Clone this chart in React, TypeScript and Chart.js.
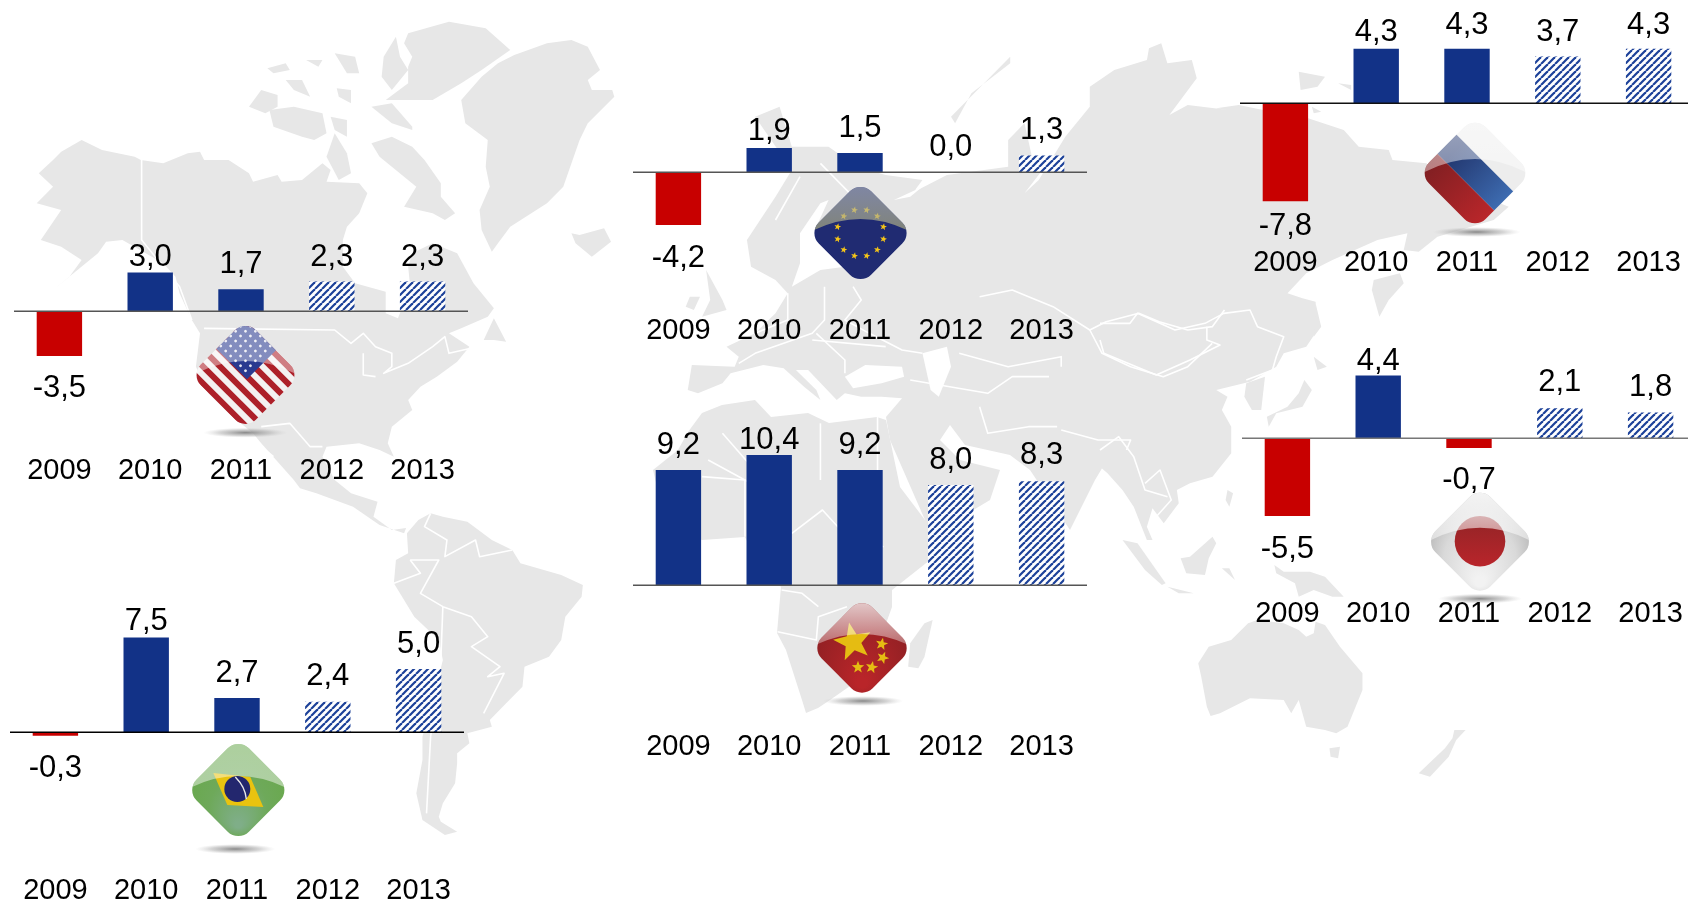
import React, { useEffect, useRef } from "react";
import { Chart, registerables } from "chart.js";

Chart.register(...registerables);

const years = ["2009", "2010", "2011", "2012", "2013"];
const usaValues = [-3.5, 3.0, 1.7, 2.3, 2.3];
const euValues = [-4.2, 1.9, 1.5, 0.0, 1.3];
const russiaValues = [-7.8, 4.3, 4.3, 3.7, 4.3];
const japanValues = [-5.5, 4.4, -0.7, 2.1, 1.8];
const chinaValues = [9.2, 10.4, 9.2, 8.0, 8.3];
const brazilValues = [-0.3, 7.5, 2.7, 2.4, 5.0];

const FONT = '"Liberation Sans", Arial, sans-serif';
const DATA_FONT_PX = 31;
const TICK_FONT_PX = 29;
const PANEL_W = 454;

type Panel = {
  id: string; values: number[]; left: number; baseline: number; ppu: number;
  tickY: number; labelY: number[]; axis: string;
};
const panels: Panel[] = [
  { id: "usa", values: usaValues, left: 14, baseline: 311, ppu: 12.85, tickY: 471, labelY: [388, 257, 264.5, 257, 257], axis: "#555" },
  { id: "eu", values: euValues, left: 633, baseline: 172, ppu: 12.6, tickY: 331.3, labelY: [258, 131, 128.5, 147, 130.5], axis: "#555" },
  { id: "russia", values: russiaValues, left: 1240, baseline: 103, ppu: 12.6, tickY: 262.7, labelY: [226.5, 32, 25, 32, 25], axis: "#111" },
  { id: "japan", values: japanValues, left: 1242, baseline: 438, ppu: 14.2, tickY: 613.7, labelY: [549, 361.5, 480, 382, 387], axis: "#777" },
  { id: "china", values: chinaValues, left: 633, baseline: 585, ppu: 12.5, tickY: 746.5, labelY: [445, 440.5, 445, 460, 455.5], axis: "#555" },
  { id: "brazil", values: brazilValues, left: 10, baseline: 732, ppu: 12.6, tickY: 890.5, labelY: [768, 621.5, 673, 676.5, 644], axis: "#000" },
];

function zoomFrame(ox: number, oy: number, sx: number) {
  return (...p: number[]) => {
    const out: number[] = [];
    for (let i = 0; i < p.length; i += 2) out.push(ox + p[i] / sx, oy + p[i + 1] / 3);
    return out;
  };
}
const z7 = zoomFrame(0, 0, 2.45);
const z8 = zoomFrame(600, 0, 2.45);
const z9 = zoomFrame(1100, 60, 2.667);
const z10 = zoomFrame(300, 460, 2.45);
const z11 = zoomFrame(1100, 500, 2.667);

const landShapes: number[][] = [
  // North America
  z7(200,420,250,450,330,470,345,480,400,490,460,460,490,455,500,480,560,480,610,520,620,545,680,525,690,545,740,540,790,490,810,510,800,545,880,550,900,580,880,640,850,680,840,720,840,800,870,850,945,875,945,940,975,955,1005,860,1000,800,1010,760,1060,730,1120,760,1160,850,1210,925,1195,950,1130,985,1100,1000,1150,1040,1120,1085,1070,1130,1030,1160,1000,1200,1010,1230,960,1280,950,1330,965,1370,930,1350,880,1330,800,1340,790,1370,820,1440,860,1480,925,1505,915,1550,960,1590,995,1584,990,1600,930,1575,865,1520,775,1480,735,1465,720,1440,640,1330,620,1300,560,1240,510,1180,480,1100,490,1000,470,960,440,880,430,830,400,790,300,720,260,725,240,760,180,820,115,885,170,830,200,780,150,740,100,720,150,630,90,610,130,560,95,520,130,480,150,455),
  // Arctic Canada
  z7(610,320,640,270,680,285,680,320,650,340),
  z7(660,330,720,320,790,340,800,400,770,420,740,410,670,380),
  z7(700,240,740,240,760,290,720,270),
  z7(655,205,700,190,710,210,670,220),
  z7(820,400,850,460,860,520,830,540,800,470),
  z7(910,430,960,410,1010,440,1040,480,1080,550,1080,590,1115,640,1090,660,1060,640,990,620,1020,560,960,500,930,470),
  z7(1000,100,1100,65,1190,85,1250,150,1180,210,1130,250,1060,300,1010,300,945,300,1000,250,1000,200,1010,170,990,130),
  z7(940,170,970,110,980,170,1000,210,960,270,935,230),
  z7(960,310,1010,380,1010,390,960,370,910,320),
  z7(820,160,870,170,880,220,850,220),
  z7(750,180,790,180,780,200),
  z7(825,265,860,270,860,310,830,290),
  z7(810,350,850,360,850,410,820,390),
  z7(1185,1020,1210,955,1240,1025,1210,1020),
  // Greenland, Iceland
  z7(1260,165,1340,130,1400,120,1440,140,1470,210,1440,240,1450,270,1500,270,1505,290,1440,370,1420,420,1380,560,1340,610,1250,680,1220,730,1205,755,1180,690,1175,630,1200,560,1190,500,1195,420,1140,370,1130,300,1180,230,1220,190),
  z7(1400,700,1420,705,1480,685,1497,725,1450,770,1410,730),
  // South America
  z10(320,160,350,170,410,185,470,240,520,270,540,310,640,345,693,375,690,410,650,470,640,540,610,590,550,620,545,680,505,730,465,780,470,800,410,820,415,850,385,880,385,910,380,970,350,1030,340,1070,345,1085,385,1115,355,1125,300,1080,285,1000,300,900,300,830,330,700,350,600,340,540,280,470,230,370,235,300,265,280,262,220,290,180),
  // Africa
  [722,405,755,400,771,417,808,413,829,423,877,417,886,420,900,487,925,520,950,522,930,560,892,590,892,607,880,640,880,665,830,700,818,708,806,713,802,700,786,650,777,633,781,587,753,553,745,537,702,540,665,520,653,470,678,450,688,432,702,413],
  z10(1530,490,1550,480,1530,590,1515,625,1490,620,1495,550),
  // Eurasia
  [
    ...z8(440,320,470,440,560,440,630,500,700,525,790,540,775,565,770,575,850,525,1000,500,1000,420,1040,370,1060,480,1090,500,1040,580,1075,540,1140,410,1200,320,1200,260,1260,210,1340,180,1345,145,1375,130,1390,190,1450,180,1462,235,1395,345,1440,315,1540,330),
    ...z9(310,145,370,135,435,150,555,175,650,210,690,260,770,270,780,300,870,310,900,330,1000,400,1090,440,1050,480,900,530,850,575,810,570,820,520,740,540,620,600,550,640,500,700,540,715,575,725,580,810,550,860,490,880,470,920,440,940,400,965,310,990,340,1010,325,1050,350,1100,350,1180,300,1250,240,1270,205,1290,210,1330,170,1390,140,1345,125,1400,140,1440,125,1440,90,1340,60,1290,20,1240,0,1220),
    1110,455,1095,480,1070,530,1030,470,1010,455,965,445,950,425,940,440,960,460,1000,470,990,500,940,530,925,520,890,440,886,417,
    ...z8(740,1195,690,1190,640,1190,600,1180,580,1200,510,1110,480,1110,530,1170,540,1200,500,1160,450,1105,400,1095,320,1120,300,1150,240,1180,215,1170,225,1095,330,1100,340,1070,310,1040,380,1000,430,940,460,880,430,840,370,800,360,720,430,590,470,510,380,350),
  ],
  // Islands of Eurasia and Oceania
  z8(260,810,300,900,310,930,250,950,270,900),
  z8(220,890,245,890,230,930,210,920),
  z8(860,350,1005,170,1005,190,910,280,870,370),
  z9(530,35,600,50,580,80,535,90),
  z9(635,70,670,75,670,90),
  z9(565,140,590,155,570,160),
  z9(730,660,800,640,810,670,770,720,745,770,725,690),
  z9(390,970,440,950,430,1050,405,1050,385,1010),
  z9(545,960,565,990,540,1040,470,1060,450,1100,445,1070,500,1040,530,1000),
  z9(570,890,605,920,580,930),
  z9(575,730,590,800,570,830,575,770),
  z9(340,1290,355,1300,345,1340,335,1320),
  z11(60,120,100,130,175,250,165,255,120,210),
  z11(215,175,240,170,300,110,310,130,290,175,280,225,230,220),
  z11(325,205,345,205,360,240,340,220),
  z11(180,260,250,280,210,280),
  z11(465,195,490,215,560,215,600,230,650,290,620,290,570,270,530,290,520,250,470,220),
  z11(600,375,640,440,700,520,700,570,660,680,630,700,600,690,550,680,530,600,510,640,490,600,400,595,320,640,295,648,285,620,270,530,262,490,290,440,350,420,395,370,420,360,490,370,530,390,550,410,570,400,575,365),
  z11(612,745,640,740,635,775,615,770),
  z11(850,820,920,745,940,715,945,690,975,690,950,720,930,770,880,830),
];

const seaShapes: number[][] = [
  z8(490,700,540,610,560,600,530,680,600,800,540,810,470,860,490,790),
  z8(600,1130,650,1095,740,1100,745,1130,690,1150,620,1165),
  z8(790,1060,850,1040,860,1100,830,1190,810,1170),
  z8(720,600,790,560,760,590),
];

const borderLines: number[][] = [
  z7(347,480,347,720,440,860,470,960),
  z7(500,985,820,990,860,1030,890,1000,920,1040,960,1060,960,1100,940,1120,1000,1090,1060,1040,1090,1010,1100,1060,1170,1040),
  z7(890,1060,890,1125,920,1130),
  z7(640,1280,710,1270,760,1340,790,1340),
  z7(620,1320,670,1370),
  z8(930,890,1010,870,1050,890,1110,920,1200,990,1240,965,1320,940,1370,965,1440,990,1500,980,1530,930),
  z9(0,790,80,790,100,760,200,810,280,790,330,760,400,750,420,800,490,830,470,890,460,930,390,960),
  z9(0,840,10,880,150,945,240,900,320,855,285,840,285,800),
  z8(1200,990,1230,1060,1300,1100,1380,1130,1440,1100,1500,1030),
  z8(880,1060,1000,1100,1130,1070,1130,1100),
  z8(760,1140,950,1180,1010,1130,1100,1130),
  z8(930,1220,950,1300,1050,1280,1120,1280),
  z8(1130,1290,1220,1320,1300,1320,1290,1350),
  z8(620,860,640,900,600,960,660,1000,740,1050,790,1060),
  z8(460,880,460,960,380,1000),
  z8(550,860,550,960,520,1000,380,1060,340,1090),
  z8(530,1000,600,1080,600,1120),
  z8(490,530,430,660),
  z8(540,490,620,590),
  z8(520,1020,700,1040),
  z9(0,1170,50,1130,90,1190,120,1290,180,1310),
  z9(120,1270,160,1230,190,1320,150,1370),
  z10(985,50,1090,60,1090,230),
  z10(1000,0,1090,60,1200,130),
  z10(1205,220,1280,150,1340,230,1430,260),
  z10(1170,515,1265,540,1270,470,1340,440),
  z10(1180,390,1230,400,1270,440),
  z8(300,1300,400,1440),
  z8(540,1270,540,1440),
  z8(680,1250,680,1440),
  z10(320,160,305,200,360,240,355,290,430,240,440,290,520,270),
  z10(270,300,340,300,295,400,350,440,420,470,460,530,420,560,490,620,460,650,500,640,450,760),
  z10(350,440,345,600,320,830,310,1060),
  z10(230,370,295,340,270,300),
];

function trace(ctx: CanvasRenderingContext2D, pts: number[]) {
  ctx.beginPath();
  ctx.moveTo(pts[0], pts[1]);
  for (let i = 2; i < pts.length; i += 2) ctx.lineTo(pts[i], pts[i + 1]);
}

function star(ctx: CanvasRenderingContext2D, x: number, y: number, r: number, rot = 0) {
  ctx.beginPath();
  for (let i = 0; i < 10; i++) {
    const a = rot - Math.PI / 2 + (i * Math.PI) / 5;
    const rr = i % 2 ? r * 0.42 : r;
    ctx.lineTo(x + rr * Math.cos(a), y + rr * Math.sin(a));
  }
  ctx.closePath();
  ctx.fill();
}

const SIDE = 78;
function diamondPath(ctx: CanvasRenderingContext2D, cx: number, cy: number, side: number) {
  ctx.save();
  ctx.translate(cx, cy);
  ctx.rotate(Math.PI / 4);
  ctx.beginPath();
  ctx.roundRect(-side / 2, -side / 2, side, side, 15);
  ctx.restore();
}

function shadow(ctx: CanvasRenderingContext2D, x: number, y: number, rx: number) {
  ctx.save();
  ctx.translate(x, y);
  ctx.scale(1, 5 / rx);
  const g = ctx.createRadialGradient(0, 0, 0, 0, 0, rx);
  g.addColorStop(0, "rgba(130,130,130,0.95)");
  g.addColorStop(0.6, "rgba(170,170,170,0.5)");
  g.addColorStop(1, "rgba(200,200,200,0)");
  ctx.fillStyle = g;
  ctx.beginPath();
  ctx.arc(0, 0, rx, 0, Math.PI * 2);
  ctx.fill();
  ctx.restore();
}

function flag(
  ctx: CanvasRenderingContext2D, cx: number, cy: number,
  paint: () => void, glossTop: string, glossBottom: string, side = SIDE,
) {
  ctx.save();
  diamondPath(ctx, cx, cy, side);
  ctx.clip();
  paint();
  ctx.beginPath();
  ctx.moveTo(cx - 56, cy + 2);
  ctx.quadraticCurveTo(cx, cy - 30, cx + 56, cy + 2);
  ctx.lineTo(cx + 56, cy - 60);
  ctx.lineTo(cx - 56, cy - 60);
  ctx.closePath();
  const g = ctx.createLinearGradient(0, cy - 50, 0, cy);
  g.addColorStop(0, glossTop);
  g.addColorStop(1, glossBottom);
  ctx.fillStyle = g;
  ctx.fill();
  ctx.restore();
}

function drawUsa(ctx: CanvasRenderingContext2D, cx: number, cy: number) {
  flag(ctx, cx, cy, () => {
    ctx.save();
    ctx.translate(cx, cy);
    ctx.rotate(Math.PI / 4);
    ctx.fillStyle = "#f4f1f1";
    ctx.fillRect(-60, -60, 120, 120);
    ctx.fillStyle = "#ad2029";
    const h = SIDE / 13;
    for (let i = 0; i < 13; i += 2) ctx.fillRect(-60, -SIDE / 2 + i * h, 120, h);
    ctx.fillStyle = "#2a3a90";
    ctx.fillRect(-60, -60, 60 + 4, 60 + 2);
    ctx.fillStyle = "#e8e8f0";
    for (let a = -38; a < 4; a += 7) for (let b = -38; b < 2; b += 7) {
      ctx.beginPath();
      ctx.arc(a, b, 1.4, 0, Math.PI * 2);
      ctx.fill();
    }
    ctx.restore();
  }, "rgba(255,255,255,0.42)", "rgba(255,255,255,0.42)", 78);
  shadow(ctx, cx, cy + 57.7, 42);
}

function drawEu(ctx: CanvasRenderingContext2D, cx: number, cy: number) {
  flag(ctx, cx, cy, () => {
    ctx.fillStyle = "#202b72";
    ctx.fillRect(cx - 60, cy - 60, 120, 120);
    ctx.fillStyle = "#f5c518";
    for (let i = 0; i < 12; i++) {
      const a = Math.PI / 12 + (i * Math.PI) / 6;
      star(ctx, cx + 23.7 * Math.cos(a), cy + 23.7 * Math.sin(a), 3.6, 0.2);
    }
  }, "rgba(190,195,200,0.6)", "rgba(165,165,120,0.72)", 74);
}

function drawRussia(ctx: CanvasRenderingContext2D, cx: number, cy: number) {
  flag(ctx, cx, cy, () => {
    ctx.save();
    ctx.translate(cx, cy);
    ctx.rotate(Math.PI / 4);
    ctx.fillStyle = "#ededed";
    ctx.fillRect(-60, -60, 120, 120);
    const blue = ctx.createLinearGradient(-30, 0, 40, 0);
    blue.addColorStop(0, "#23376f");
    blue.addColorStop(1, "#3d6bb0");
    ctx.fillStyle = blue;
    ctx.fillRect(-60, -14, 120, 27);
    const red = ctx.createLinearGradient(-40, 0, 40, 0);
    red.addColorStop(0, "#7f1f22");
    red.addColorStop(1, "#b9262a");
    ctx.fillStyle = red;
    ctx.fillRect(-60, 13, 120, 50);
    ctx.restore();
  }, "rgba(255,255,255,0.55)", "rgba(255,255,255,0.42)", 80);
  shadow(ctx, cx + 1.7, cy + 59, 44);
}

function drawJapan(ctx: CanvasRenderingContext2D, cx: number, cy: number) {
  flag(ctx, cx, cy, () => {
    const g = ctx.createRadialGradient(cx, cy + 40, 5, cx, cy, 62);
    g.addColorStop(0, "#f2f2f2");
    g.addColorStop(0.55, "#d9d9d9");
    g.addColorStop(1, "#a8a8a8");
    ctx.fillStyle = g;
    ctx.fillRect(cx - 60, cy - 60, 120, 120);
    const r = ctx.createLinearGradient(0, cy - 25, 0, cy + 25);
    r.addColorStop(0, "#922426");
    r.addColorStop(1, "#b9252b");
    ctx.fillStyle = r;
    ctx.beginPath();
    ctx.arc(cx, cy - 0.5, 25.3, 0, Math.PI * 2);
    ctx.fill();
  }, "rgba(255,255,255,0.85)", "rgba(255,255,255,0.45)", 78);
  shadow(ctx, cx, cy + 57, 42);
}

function drawChina(ctx: CanvasRenderingContext2D, cx: number, cy: number) {
  flag(ctx, cx, cy, () => {
    const g = ctx.createRadialGradient(cx, cy + 35, 5, cx, cy, 60);
    g.addColorStop(0, "#b92529");
    g.addColorStop(1, "#861f22");
    ctx.fillStyle = g;
    ctx.fillRect(cx - 60, cy - 60, 120, 120);
    ctx.fillStyle = "#e5bc12";
    star(ctx, cx - 9, cy - 6, 20, -0.2);
    star(ctx, cx + 19.7, cy - 4, 6.5, 0.2);
    star(ctx, cx + 20.7, cy + 9.7, 6.5, 0.4);
    star(ctx, cx + 9.7, cy + 19.3, 6.5, 0.2);
    star(ctx, cx - 4, cy + 19.3, 6.5, 0);
  }, "rgba(255,255,255,0.8)", "rgba(255,255,255,0.3)", 72);
  shadow(ctx, cx + 1, cy + 53, 40);
}

function drawBrazil(ctx: CanvasRenderingContext2D, cx: number, cy: number) {
  flag(ctx, cx, cy, () => {
    const g = ctx.createRadialGradient(cx, cy + 35, 3, cx, cy, 55);
    g.addColorStop(0, "#7fae88");
    g.addColorStop(0.5, "#6ea95a");
    g.addColorStop(1, "#68a84b");
    ctx.fillStyle = g;
    ctx.fillRect(cx - 60, cy - 60, 120, 120);
    ctx.fillStyle = "#e9c30f";
    trace(ctx, [cx - 25, cy - 17, cx + 12, cy - 13, cx + 25, cy + 17, cx - 11, cy + 15]);
    ctx.closePath();
    ctx.fill();
    ctx.fillStyle = "#23276e";
    ctx.beginPath();
    ctx.arc(cx - 1, cy - 1, 13, 0, Math.PI * 2);
    ctx.fill();
    ctx.strokeStyle = "#e8e8e8";
    ctx.lineWidth = 1.4;
    ctx.beginPath();
    ctx.moveTo(cx - 3, cy - 13);
    ctx.quadraticCurveTo(cx + 7, cy - 3, cx + 8, cy + 9);
    ctx.stroke();
  }, "rgba(255,255,255,0.45)", "rgba(255,255,255,0.45)", 74);
  shadow(ctx, cx - 3, cy + 59, 40);
}

function drawBackdrop(ctx: CanvasRenderingContext2D) {
  ctx.fillStyle = "#fff";
  ctx.fillRect(0, 0, 1688, 904);
  ctx.fillStyle = "#e7e7e7";
  ctx.lineJoin = "round";
  for (const s of landShapes) { trace(ctx, s); ctx.closePath(); ctx.fill(); }
  ctx.fillStyle = "#fff";
  for (const s of seaShapes) { trace(ctx, s); ctx.closePath(); ctx.fill(); }
  ctx.strokeStyle = "#fff";
  ctx.lineWidth = 1.6;
  for (const s of borderLines) { trace(ctx, s); ctx.stroke(); }
  drawUsa(ctx, 245.5, 375);
  drawEu(ctx, 860.5, 233);
  drawRussia(ctx, 1475, 173);
  drawJapan(ctx, 1480, 541.7);
  drawChina(ctx, 862, 648);
  drawBrazil(ctx, 238.3, 790);
}

function hatch(ctx: CanvasRenderingContext2D): CanvasPattern {
  const size = 7;
  const c = document.createElement("canvas");
  c.width = size;
  c.height = size;
  const p = c.getContext("2d")!;
  p.fillStyle = "#fff";
  p.fillRect(0, 0, size, size);
  p.strokeStyle = "#1c4199";
  p.lineWidth = 2.2;
  for (let o = -size; o <= size * 2; o += size) {
    p.beginPath();
    p.moveTo(o, size);
    p.lineTo(o + size, 0);
    p.stroke();
  }
  return ctx.createPattern(c, "repeat")!;
}

const labelPlugin = {
  id: "panelDecor",
  afterDatasetsDraw(chart: any, _a: any, opts: any) {
    const { ctx, chartArea } = chart;
    const y0 = Math.round(chart.scales.y.getPixelForValue(0));
    ctx.save();
    ctx.strokeStyle = opts.axis;
    ctx.lineWidth = 1.5;
    ctx.beginPath();
    ctx.moveTo(chartArea.left, y0 + 0.25);
    ctx.lineTo(chartArea.right, y0 + 0.25);
    ctx.stroke();
    ctx.fillStyle = "#000";
    ctx.font = `${DATA_FONT_PX}px ${FONT}`;
    ctx.textAlign = "center";
    ctx.textBaseline = "middle";
    const meta = chart.getDatasetMeta(0);
    opts.values.forEach((v: number, i: number) => {
      ctx.fillText(v.toFixed(1).replace(".", ","), meta.data[i].x, opts.labelY[i]);
    });
    ctx.restore();
  },
};

function BarPanel({ panel }: { panel: Panel }) {
  const ref = useRef<HTMLCanvasElement>(null);
  const top = Math.min(...panel.labelY, panel.baseline) - 24;
  const roundedTop = Math.max(0, Math.floor(top));
  const plotBottom = panel.baseline + 110;
  const canvasBottom = Math.ceil(panel.tickY + 24);
  const effectiveBottom = Math.min(plotBottom, Math.floor(panel.tickY - 20));
  const height = canvasBottom - roundedTop;
  useEffect(() => {
    const ctx = ref.current!.getContext("2d")!;
    const pattern = hatch(ctx);
    const chart = new Chart(ctx, {
      type: "bar",
      data: {
        labels: years,
        datasets: [{
          data: panel.values,
          backgroundColor: panel.values.map((v, i) => (v < 0 ? "#c80000" : i >= 3 ? pattern : "#123287")),
          barPercentage: 0.5,
          categoryPercentage: 1,
        }],
      },
      options: {
        responsive: false,
        animation: false,
        layout: { padding: 0 },
        plugins: {
          legend: { display: false },
          tooltip: { enabled: false },
          panelDecor: { values: panel.values, labelY: panel.labelY.map((y) => y - roundedTop), axis: panel.axis },
        } as any,
        scales: {
          x: {
            grid: { display: false, drawTicks: false },
            border: { display: false },
            afterFit: (s: any) => {
              s.height = canvasBottom - effectiveBottom;
              s.paddingLeft = 0;
              s.paddingRight = 0;
            },
            ticks: {
              color: "#000",
              autoSkip: false,
              maxRotation: 0,
              font: { family: FONT, size: TICK_FONT_PX },
              padding: panel.tickY - effectiveBottom - 0.6 * TICK_FONT_PX,
            },
          },
          y: {
            display: false,
            min: -(effectiveBottom - panel.baseline) / panel.ppu,
            max: (panel.baseline - roundedTop) / panel.ppu,
          },
        },
      },
      plugins: [labelPlugin],
    } as any);
    return () => chart.destroy();
  }, [panel]);
  return (
    <canvas
      ref={ref}
      width={PANEL_W}
      height={height}
      style={{ position: "absolute", left: panel.left, top: roundedTop, width: PANEL_W, height }}
    />
  );
}

export default function App() {
  const bg = useRef<HTMLCanvasElement>(null);
  useEffect(() => {
    drawBackdrop(bg.current!.getContext("2d")!);
  }, []);
  return (
    <div style={{ position: "fixed", left: 0, top: 0, width: 1688, height: 904, overflow: "hidden", background: "#fff" }}>
      <canvas ref={bg} width={1688} height={904} style={{ position: "absolute", left: 0, top: 0 }} />
      {panels.map((p) => <BarPanel key={p.id} panel={p} />)}
    </div>
  );
}
